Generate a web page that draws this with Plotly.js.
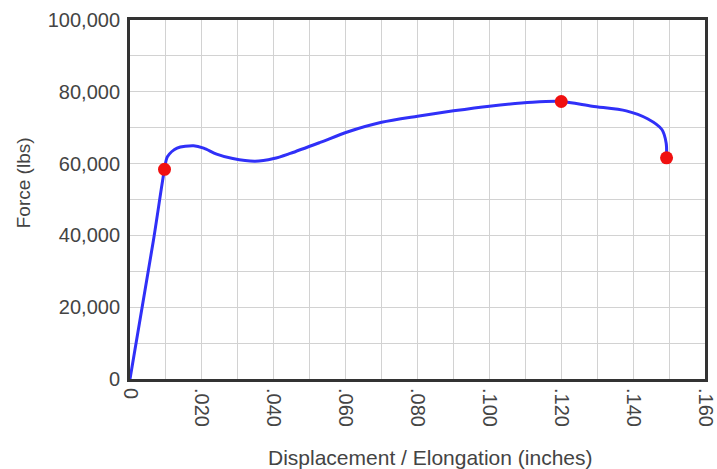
<!DOCTYPE html>
<html>
<head>
<meta charset="utf-8">
<script src="https://cdn.plot.ly/plotly-3.0.1.min.js"></script>
<style>
  html, body { margin: 0; padding: 0; background: #ffffff; }
  #chart { width: 717px; height: 469px; }
</style>
</head>
<body>
<div id="chart"></div>
<script>
// Force-displacement curve
const displacement = [0, 0.0065, 0.0096, 0.0104, 0.0131, 0.0177, 0.0205, 0.0241, 0.0286, 0.0348, 0.0400, 0.0446, 0.0529, 0.0605, 0.0700, 0.0800, 0.0900, 0.1000, 0.1120, 0.1200, 0.1286, 0.1381, 0.1440, 0.1480, 0.1492, 0.1493];
const force = [0, 38500, 58400, 61900, 64300, 64950, 64300, 62650, 61400, 60650, 61400, 62850, 65900, 68800, 71500, 73200, 74700, 76000, 77100, 77300, 76000, 74700, 72500, 69500, 65700, 61600];

// Highlighted points (yield, ultimate, break)
const pointDisp = [0.0096, 0.1200, 0.1493];
const pointForce = [58400, 77300, 61600];

// Tick values and labels
const xTickVals = [0, 0.01, 0.02, 0.03, 0.04, 0.05, 0.06, 0.07, 0.08, 0.09, 0.10, 0.11, 0.12, 0.13, 0.14, 0.15, 0.16];
const xTickText = ["0", "", ".020", "", ".040", "", ".060", "", ".080", "", ".100", "", ".120", "", ".140", "", ".160"];
const yTickVals = [0, 10000, 20000, 30000, 40000, 50000, 60000, 70000, 80000, 90000, 100000];
const yTickText = ["0", "", "20,000", "", "40,000", "", "60,000", "", "80,000", "", "100,000"];

const xTitle = "Displacement / Elongation (inches)";
const yTitle = "Force (lbs)";

const fontFamily = '"Liberation Sans", Arial, Helvetica, sans-serif';
const textColor = '#444444';
const gridColor = '#d2d2d2';

const traces = [
  {
    x: displacement,
    y: force,
    type: 'scatter',
    mode: 'lines',
    line: { color: '#3030f8', width: 3, shape: 'spline', smoothing: 0.8 },
    hoverinfo: 'x+y',
    showlegend: false
  },
  {
    x: pointDisp,
    y: pointForce,
    type: 'scatter',
    mode: 'markers',
    marker: { color: '#f01010', size: 13 },
    cliponaxis: false,
    showlegend: false
  }
];

const layout = {
  width: 717,
  height: 469,
  margin: { l: 130, r: 12, t: 20, b: 90 },
  paper_bgcolor: '#ffffff',
  plot_bgcolor: '#ffffff',
  font: { family: fontFamily, color: textColor, size: 20 },
  showlegend: false,
  xaxis: {
    range: [0, 0.16],
    tickmode: 'array',
    tickvals: xTickVals,
    ticktext: xTickText,
    tickangle: 90,
    ticks: '',
    ticklabelstandoff: 2,
    ticklabeloverflow: 'allow',
    tickfont: { family: fontFamily, size: 20, color: textColor },
    showgrid: true,
    gridcolor: gridColor,
    gridwidth: 1,
    zeroline: false,
    showline: true,
    mirror: true,
    linecolor: '#333333',
    linewidth: 3,
    fixedrange: true
  },
  yaxis: {
    range: [0, 100000],
    tickmode: 'array',
    tickvals: yTickVals,
    ticktext: yTickText,
    ticks: '',
    ticklabelstandoff: 3,
    tickfont: { family: fontFamily, size: 20, color: textColor },
    showgrid: true,
    gridcolor: gridColor,
    gridwidth: 1,
    zeroline: false,
    showline: true,
    mirror: true,
    linecolor: '#333333',
    linewidth: 3,
    fixedrange: true
  },
  annotations: [
    {
      text: xTitle,
      xref: 'paper', yref: 'paper',
      x: 0.522, y: -0.218,
      xanchor: 'center', yanchor: 'middle',
      showarrow: false,
      font: { family: fontFamily, size: 21, color: textColor }
    },
    {
      text: yTitle,
      xref: 'paper', yref: 'paper',
      x: -0.185, y: 0.547,
      xanchor: 'center', yanchor: 'middle',
      textangle: -90,
      showarrow: false,
      font: { family: fontFamily, size: 19, color: textColor }
    }
  ]
};

Plotly.newPlot('chart', traces, layout, { displayModeBar: false, staticPlot: true });
</script>
</body>
</html>
